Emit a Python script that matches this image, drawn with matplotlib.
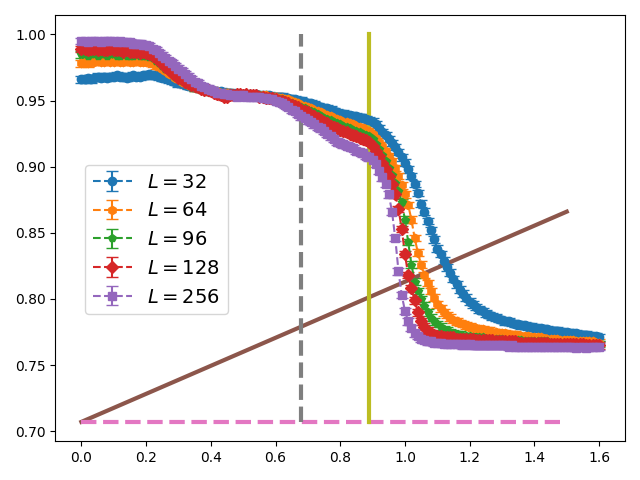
import numpy as np
import matplotlib
matplotlib.use('Agg')
import matplotlib.pyplot as plt

x = np.round(np.arange(0, 161) * 0.01, 2)

sizes = [32, 64, 96, 128, 256]
markers = ['o', 'h', 'p', 'D', 's']

m32 = [
    0.966, 0.966, 0.967, 0.966, 0.967, 0.968, 0.967, 0.968, 0.967, 0.968,
    0.968, 0.969, 0.968, 0.968, 0.967, 0.968, 0.969, 0.968, 0.968, 0.969,
    0.969, 0.970, 0.969, 0.969, 0.968, 0.967, 0.967, 0.966, 0.965, 0.964,
    0.963, 0.963, 0.962, 0.961, 0.961, 0.960, 0.960, 0.959, 0.959, 0.958,
    0.958, 0.957, 0.957, 0.957, 0.956, 0.956, 0.956, 0.955, 0.955, 0.955,
    0.955, 0.955, 0.955, 0.954, 0.955, 0.954, 0.954, 0.954, 0.954, 0.953,
    0.953, 0.953, 0.953, 0.952, 0.952, 0.951, 0.951, 0.950, 0.950, 0.949,
    0.948, 0.948, 0.947, 0.946, 0.945, 0.944, 0.944, 0.943, 0.942, 0.941,
    0.940, 0.940, 0.939, 0.939, 0.938, 0.938, 0.937, 0.937, 0.936, 0.935,
    0.934, 0.932, 0.929, 0.926, 0.924, 0.921, 0.918, 0.915, 0.911, 0.907,
    0.903, 0.898, 0.893, 0.887, 0.880, 0.872, 0.866, 0.859, 0.852, 0.845,
    0.838, 0.834, 0.829, 0.824, 0.820, 0.815, 0.811, 0.807, 0.804, 0.801,
    0.798, 0.796, 0.794, 0.792, 0.791, 0.789, 0.788, 0.787, 0.786, 0.785,
    0.784, 0.783, 0.783, 0.782, 0.781, 0.781, 0.780, 0.780, 0.779, 0.779,
    0.778, 0.778, 0.778, 0.777, 0.777, 0.776, 0.776, 0.776, 0.775, 0.775,
    0.775, 0.774, 0.774, 0.774, 0.773, 0.773, 0.773, 0.772, 0.772, 0.772,
    0.771]

m64 = [
    0.978, 0.979, 0.978, 0.979, 0.979, 0.980, 0.979, 0.979, 0.980, 0.979,
    0.979, 0.980, 0.979, 0.979, 0.980, 0.979, 0.979, 0.980, 0.979, 0.979,
    0.979, 0.979, 0.978, 0.976, 0.975, 0.974, 0.972, 0.970, 0.969, 0.967,
    0.966, 0.964, 0.963, 0.962, 0.961, 0.960, 0.960, 0.959, 0.959, 0.958,
    0.958, 0.957, 0.957, 0.956, 0.956, 0.956, 0.955, 0.955, 0.955, 0.955,
    0.955, 0.955, 0.954, 0.955, 0.954, 0.954, 0.954, 0.954, 0.953, 0.953,
    0.953, 0.952, 0.952, 0.951, 0.951, 0.950, 0.949, 0.948, 0.947, 0.946,
    0.945, 0.944, 0.943, 0.942, 0.941, 0.940, 0.939, 0.938, 0.937, 0.936,
    0.935, 0.934, 0.934, 0.933, 0.932, 0.931, 0.930, 0.929, 0.928, 0.927,
    0.925, 0.922, 0.919, 0.916, 0.912, 0.908, 0.904, 0.899, 0.893, 0.886,
    0.879, 0.871, 0.860, 0.846, 0.835, 0.826, 0.818, 0.812, 0.806, 0.801,
    0.796, 0.793, 0.790, 0.788, 0.786, 0.784, 0.783, 0.782, 0.781, 0.780,
    0.779, 0.778, 0.778, 0.777, 0.777, 0.776, 0.776, 0.775, 0.775, 0.774,
    0.774, 0.774, 0.773, 0.773, 0.773, 0.772, 0.772, 0.772, 0.772, 0.771,
    0.771, 0.771, 0.771, 0.770, 0.770, 0.770, 0.770, 0.770, 0.769, 0.769,
    0.769, 0.769, 0.769, 0.768, 0.768, 0.768, 0.768, 0.768, 0.768, 0.767,
    0.767]

m96 = [
    0.985, 0.985, 0.984, 0.985, 0.985, 0.984, 0.985, 0.985, 0.984, 0.985,
    0.985, 0.984, 0.984, 0.985, 0.984, 0.984, 0.984, 0.985, 0.984, 0.984,
    0.984, 0.983, 0.982, 0.980, 0.978, 0.976, 0.974, 0.972, 0.970, 0.968,
    0.967, 0.965, 0.964, 0.962, 0.961, 0.960, 0.960, 0.959, 0.958, 0.958,
    0.957, 0.957, 0.956, 0.956, 0.955, 0.955, 0.955, 0.954, 0.955, 0.954,
    0.954, 0.954, 0.954, 0.954, 0.953, 0.954, 0.953, 0.953, 0.953, 0.952,
    0.952, 0.951, 0.951, 0.950, 0.949, 0.948, 0.947, 0.946, 0.945, 0.944,
    0.943, 0.942, 0.941, 0.940, 0.938, 0.937, 0.936, 0.935, 0.934, 0.933,
    0.932, 0.931, 0.930, 0.929, 0.928, 0.927, 0.926, 0.925, 0.924, 0.923,
    0.921, 0.917, 0.913, 0.909, 0.904, 0.899, 0.894, 0.888, 0.882, 0.873,
    0.860, 0.843, 0.826, 0.813, 0.806, 0.800, 0.795, 0.790, 0.786, 0.783,
    0.781, 0.779, 0.777, 0.776, 0.775, 0.774, 0.773, 0.773, 0.772, 0.772,
    0.772, 0.771, 0.771, 0.771, 0.771, 0.770, 0.770, 0.770, 0.770, 0.770,
    0.770, 0.769, 0.769, 0.769, 0.769, 0.769, 0.769, 0.768, 0.768, 0.768,
    0.768, 0.768, 0.768, 0.768, 0.768, 0.767, 0.767, 0.767, 0.767, 0.767,
    0.767, 0.767, 0.767, 0.767, 0.767, 0.766, 0.766, 0.766, 0.766, 0.766,
    0.766]

m128 = [
    0.989, 0.989, 0.988, 0.989, 0.989, 0.988, 0.989, 0.988, 0.988, 0.989,
    0.988, 0.988, 0.988, 0.987, 0.988, 0.987, 0.987, 0.987, 0.986, 0.987,
    0.986, 0.985, 0.984, 0.982, 0.980, 0.978, 0.975, 0.973, 0.971, 0.969,
    0.967, 0.966, 0.964, 0.963, 0.962, 0.961, 0.960, 0.959, 0.958, 0.958,
    0.957, 0.956, 0.955, 0.954, 0.953, 0.953, 0.954, 0.954, 0.955, 0.955,
    0.954, 0.955, 0.954, 0.954, 0.954, 0.953, 0.953, 0.952, 0.952, 0.952,
    0.951, 0.950, 0.950, 0.949, 0.948, 0.947, 0.946, 0.945, 0.943, 0.942,
    0.941, 0.939, 0.938, 0.937, 0.935, 0.934, 0.933, 0.931, 0.930, 0.929,
    0.928, 0.927, 0.926, 0.925, 0.924, 0.923, 0.922, 0.921, 0.920, 0.919,
    0.916, 0.912, 0.908, 0.903, 0.898, 0.893, 0.887, 0.879, 0.868, 0.853,
    0.834, 0.818, 0.808, 0.799, 0.790, 0.783, 0.779, 0.776, 0.774, 0.773,
    0.772, 0.772, 0.771, 0.771, 0.771, 0.771, 0.770, 0.770, 0.770, 0.770,
    0.770, 0.770, 0.769, 0.769, 0.769, 0.769, 0.769, 0.769, 0.768, 0.768,
    0.768, 0.768, 0.768, 0.768, 0.768, 0.767, 0.767, 0.767, 0.767, 0.767,
    0.767, 0.767, 0.767, 0.767, 0.767, 0.766, 0.766, 0.766, 0.766, 0.766,
    0.766, 0.766, 0.766, 0.766, 0.766, 0.766, 0.765, 0.765, 0.765, 0.765,
    0.765]

m256 = [
    0.995, 0.995, 0.994, 0.995, 0.995, 0.995, 0.994, 0.995, 0.995, 0.995,
    0.995, 0.994, 0.995, 0.994, 0.994, 0.994, 0.993, 0.993, 0.993, 0.992,
    0.992, 0.991, 0.989, 0.988, 0.986, 0.984, 0.982, 0.980, 0.978, 0.976,
    0.974, 0.972, 0.970, 0.968, 0.966, 0.964, 0.963, 0.961, 0.960, 0.959,
    0.958, 0.957, 0.956, 0.956, 0.955, 0.955, 0.954, 0.954, 0.953, 0.954,
    0.954, 0.953, 0.953, 0.953, 0.953, 0.953, 0.952, 0.952, 0.951, 0.951,
    0.950, 0.949, 0.948, 0.947, 0.945, 0.943, 0.942, 0.940, 0.938, 0.937,
    0.935, 0.934, 0.932, 0.930, 0.929, 0.927, 0.925, 0.923, 0.921, 0.919,
    0.918, 0.917, 0.916, 0.915, 0.914, 0.912, 0.911, 0.910, 0.908, 0.907,
    0.905, 0.902, 0.897, 0.892, 0.887, 0.879, 0.866, 0.846, 0.821, 0.803,
    0.791, 0.783, 0.778, 0.774, 0.772, 0.770, 0.769, 0.768, 0.768, 0.767,
    0.767, 0.767, 0.766, 0.766, 0.766, 0.766, 0.766, 0.766, 0.765, 0.766,
    0.766, 0.765, 0.765, 0.765, 0.765, 0.765, 0.765, 0.765, 0.765, 0.765,
    0.765, 0.765, 0.764, 0.765, 0.764, 0.764, 0.764, 0.764, 0.764, 0.764,
    0.764, 0.764, 0.764, 0.764, 0.764, 0.764, 0.764, 0.764, 0.764, 0.764,
    0.764, 0.764, 0.764, 0.763, 0.764, 0.764, 0.763, 0.764, 0.764, 0.764,
    0.764]

errs = [0.0025, 0.0025, 0.0025, 0.0025, 0.0025]

# reference lines
low = 1 / np.sqrt(2)
diag_x = [0.0, 1.5]
diag_y = [low, np.sqrt(3) / 2]
flat_x = [0.0, 1.48]
flat_y = [low, low]
vline1 = 0.68
vline2 = 0.89
vtop = 1.0

fig, ax = plt.subplots(figsize=(6.4, 4.8), dpi=100)

for L, m, mk, e in zip(sizes, [m32, m64, m96, m128, m256], markers, errs):
    ax.errorbar(x, m, yerr=e, fmt=mk + '--', capsize=4, label=r'$L=%d$' % L)

ax.plot(diag_x, diag_y, lw=3)
ax.plot(flat_x, flat_y, '--', lw=3)
ax.plot([vline1, vline1], [low, vtop], '--', lw=3)
ax.plot([vline2, vline2], [low, vtop], lw=3)

ax.legend(fontsize=14, loc='lower left', bbox_to_anchor=(0.035, 0.275))
plt.tight_layout()
plt.savefig('out.png')
